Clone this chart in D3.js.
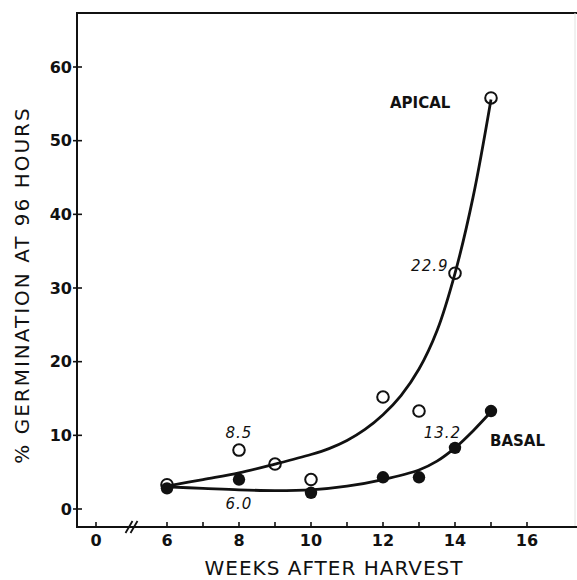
<!DOCTYPE html>
<html>
<head>
<meta charset="utf-8">
<script src="https://cdn.jsdelivr.net/npm/d3@7"></script>
<style>
  body { margin: 0; background: #fff; }
  svg text { font-family: "DejaVu Sans", sans-serif; fill: #111; }
</style>
</head>
<body>
<div id="chartContainer"></div>
<script>
// observed points
var apicalWeeks  = [6, 8, 9, 10, 12, 13, 14, 15];
var apicalValues = [3.3, 8.0, 6.1, 4.0, 15.2, 13.3, 32.0, 55.8];
var basalWeeks   = [6, 8, 10, 12, 13, 14, 15];
var basalValues  = [2.8, 4.0, 2.2, 4.3, 4.3, 8.3, 13.3];

// fitted curves as drawn
var apicalCurveWeeks  = [6, 7, 8, 9, 10, 10.5, 11, 11.5, 12, 12.5, 13, 13.5, 14, 14.5, 15];
var apicalCurveValues = [3.1, 4.0, 4.9, 6.1, 7.4, 8.2, 9.3, 10.8, 12.8, 15.4, 19.0, 24.2, 32.0, 42.3, 55.6];
var basalCurveWeeks   = [6, 7, 8, 9, 10, 11, 12, 13, 13.5, 14, 14.5, 15];
var basalCurveValues  = [3.0, 2.8, 2.6, 2.5, 2.6, 3.1, 4.0, 5.3, 6.5, 8.3, 10.6, 13.2];

// numbers written next to points
var noteText  = ["8.5", "6.0", "22.9", "13.2"];
var noteWeeks = [8, 8, 13.3, 13.65];
var noteVals  = [10.4, 0.8, 33.1, 10.4];

var xTickValues = [0, 6, 7, 8, 9, 10, 11, 12, 13, 14, 15, 16];
var xTickLabels = [0, 6, 8, 10, 12, 14, 16];
var yTickValues = [0, 10, 20, 30, 40, 50, 60];

var width = 577, height = 580;

var svg = d3.select("#chartContainer")
  .append("svg")
    .attr("width", width)
    .attr("height", height);

// broken axis: 0 sits left of the break, then 6..16
var x = d3.scaleLinear()
  .domain([0, 6, 16])
  .range([96, 167, 527]);

var y = d3.scaleLinear()
  .domain([0, 60])
  .range([509, 67]);

var axisLeftX = 77, axisBottomY = 527, topY = 13;

// frame
svg.append("line")
  .attr("x1", axisLeftX).attr("x2", width)
  .attr("y1", topY).attr("y2", topY)
  .attr("stroke", "#111").attr("stroke-width", 2);
svg.append("line")
  .attr("x1", 575).attr("x2", 575)
  .attr("y1", topY).attr("y2", axisBottomY)
  .attr("stroke", "#e2e2e2").attr("stroke-width", 1);

// Y axis
svg.append("line")
  .attr("x1", axisLeftX).attr("x2", axisLeftX)
  .attr("y1", topY - 1).attr("y2", axisBottomY + 1)
  .attr("stroke", "#111").attr("stroke-width", 2);
var yg = svg.append("g");
yg.selectAll("line")
  .data(yTickValues)
  .enter().append("line")
    .attr("x1", axisLeftX - 4).attr("x2", axisLeftX + 5)
    .attr("y1", function(d) { return y(d); })
    .attr("y2", function(d) { return y(d); })
    .attr("stroke", "#111").attr("stroke-width", 1.6);
yg.selectAll("text")
  .data(yTickValues)
  .enter().append("text")
    .attr("x", 72)
    .attr("y", function(d) { return y(d); })
    .attr("dy", "0.36em")
    .attr("text-anchor", "end")
    .attr("font-size", 16)
    .attr("font-weight", "bold")
    .text(function(d) { return d; });

// X axis
svg.append("line")
  .attr("x1", axisLeftX - 1).attr("x2", width)
  .attr("y1", axisBottomY).attr("y2", axisBottomY)
  .attr("stroke", "#111").attr("stroke-width", 2);
var xg = svg.append("g");
xg.selectAll("line")
  .data(xTickValues)
  .enter().append("line")
    .attr("x1", function(d) { return x(d); })
    .attr("x2", function(d) { return x(d); })
    .attr("y1", axisBottomY).attr("y2", axisBottomY - 5)
    .attr("stroke", "#111").attr("stroke-width", 1.6);
xg.selectAll("text")
  .data(xTickLabels)
  .enter().append("text")
    .attr("x", function(d) { return x(d); })
    .attr("y", 546)
    .attr("text-anchor", "middle")
    .attr("font-size", 16)
    .attr("font-weight", "bold")
    .text(function(d) { return d; });

// axis break marks
[-3, 2].forEach(function(off) {
  var bx = x(3) + off;
  svg.append("line")
    .attr("x1", bx - 3).attr("y1", axisBottomY + 6)
    .attr("x2", bx + 4).attr("y2", axisBottomY - 6)
    .attr("stroke", "#111").attr("stroke-width", 1.8);
});

// axis titles
svg.append("text")
  .attr("x", 334).attr("y", 575)
  .attr("text-anchor", "middle")
  .attr("font-size", 20)
  .attr("letter-spacing", 1)
  .text("WEEKS AFTER HARVEST");

svg.append("text")
  .attr("transform", "translate(29,285) rotate(-90)")
  .attr("text-anchor", "middle")
  .attr("font-size", 20)
  .attr("letter-spacing", 2)
  .text("% GERMINATION AT 96 HOURS");

// open circles first so the curve runs over them
var apical = apicalWeeks.map(function(w, i) { return {w: w, v: apicalValues[i]}; });
var basal  = basalWeeks.map(function(w, i) { return {w: w, v: basalValues[i]}; });

svg.append("g").selectAll("circle")
  .data(apical)
  .enter().append("circle")
    .attr("cx", function(d) { return x(d.w); })
    .attr("cy", function(d) { return y(d.v); })
    .attr("r", 5.8)
    .attr("fill", "#fff")
    .attr("stroke", "#111")
    .attr("stroke-width", 2);

var line = d3.line()
  .x(function(d) { return x(d.w); })
  .y(function(d) { return y(d.v); })
  .curve(d3.curveCatmullRom.alpha(0.5));

var apicalCurve = apicalCurveWeeks.map(function(w, i) { return {w: w, v: apicalCurveValues[i]}; });
var basalCurve  = basalCurveWeeks.map(function(w, i) { return {w: w, v: basalCurveValues[i]}; });

[apicalCurve, basalCurve].forEach(function(c) {
  svg.append("path")
    .datum(c)
    .attr("fill", "none")
    .attr("stroke", "#111")
    .attr("stroke-width", 2.8)
    .attr("d", line);
});

svg.append("g").selectAll("circle")
  .data(basal)
  .enter().append("circle")
    .attr("cx", function(d) { return x(d.w); })
    .attr("cy", function(d) { return y(d.v); })
    .attr("r", 6.2)
    .attr("fill", "#111");

// series labels
svg.append("text")
  .attr("x", 390).attr("y", 108)
  .attr("font-size", 15).attr("font-weight", "bold")
  .text("APICAL");
svg.append("text")
  .attr("x", 490).attr("y", 446)
  .attr("font-size", 15).attr("font-weight", "bold")
  .text("BASAL");

// italic numbers
svg.append("g").selectAll("text")
  .data(noteText)
  .enter().append("text")
    .attr("x", function(d, i) { return x(noteWeeks[i]); })
    .attr("y", function(d, i) { return y(noteVals[i]); })
    .attr("dy", "0.36em")
    .attr("text-anchor", "middle")
    .attr("font-size", 15)
    .attr("font-style", "italic")
    .attr("letter-spacing", 1)
    .text(function(d) { return d; });
</script>
</body>
</html>
